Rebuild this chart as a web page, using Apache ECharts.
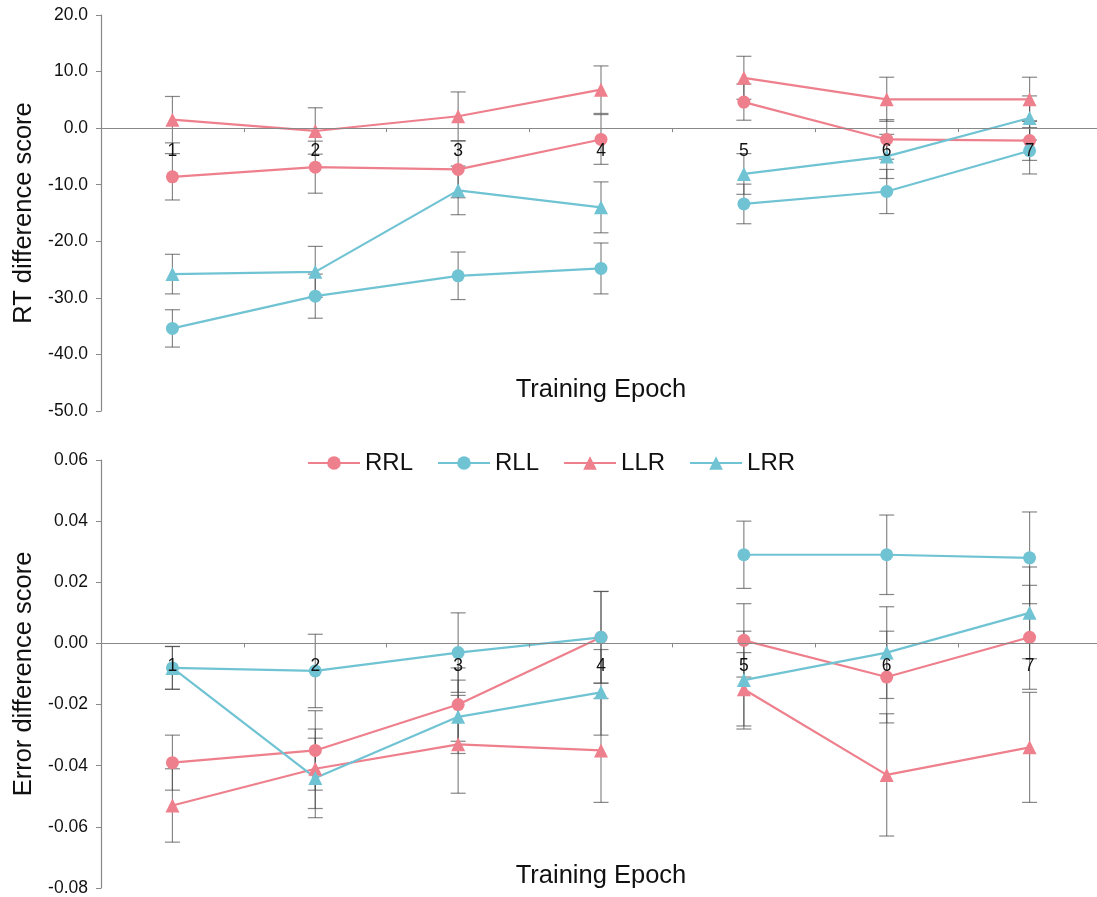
<!DOCTYPE html>
<html>
<head>
<meta charset="utf-8">
<script src="https://cdn.jsdelivr.net/npm/echarts@6/dist/echarts.min.js"></script>
<style>
  html, body { margin: 0; padding: 0; background: #fff; }
  #main { width: 1097px; height: 897px; }
</style>
</head>
<body>
<div id="main"></div>
<script>
// 训练阶段
var epochs = ['1', '2', '3', '4', '5', '6', '7'];

// RT difference score (mean, error)
var rtRRL = [-8.6, -6.9, -7.3, -2.0, 4.6, -2.0, -2.2];
var rtRRLErr = [4.1, 4.6, 5.0, 4.4, 3.2, 3.5, 3.5];
var rtRLL = [-35.4, -29.7, -26.1, -24.8, -13.4, -11.2, -4.0];
var rtRLLErr = [3.3, 3.9, 4.2, 4.5, 3.5, 3.9, 4.1];
var rtLLR = [1.5, -0.5, 2.1, 6.8, 8.9, 5.1, 5.1];
var rtLLRErr = [4.1, 4.1, 4.3, 4.2, 3.8, 3.9, 3.9];
var rtLRR = [-25.8, -25.4, -11.0, -14.0, -8.1, -5.0, 1.8];
var rtLRRErr = [3.5, 4.5, 4.3, 4.5, 3.6, 3.9, 3.9];

// Error difference score (mean, error)
var erRRL = [-0.039, -0.035, -0.020, 0.002, 0.001, -0.011, 0.002];
var erRRLErr = [0.009, 0.013, 0.012, 0.015, 0.012, 0.015, 0.017];
var erRLL = [-0.008, -0.009, -0.003, 0.002, 0.029, 0.029, 0.028];
var erRLLErr = [0.007, 0.012, 0.013, 0.015, 0.011, 0.013, 0.015];
var erLLR = [-0.053, -0.041, -0.033, -0.035, -0.015, -0.043, -0.034];
var erLLRErr = [0.012, 0.013, 0.016, 0.017, 0.012, 0.020, 0.018];
var erLRR = [-0.008, -0.044, -0.024, -0.016, -0.012, -0.003, 0.010];
var erLRRErr = [0.007, 0.013, 0.012, 0.014, 0.016, 0.015, 0.015];

// y轴范围
var rtMin = -50, rtMax = 20, rtStep = 10;
var erMin = -0.08, erMax = 0.06, erStep = 0.02;

var pink = '#ee7f8c';
var blue = '#6fc3d3';
var fontName = '"Liberation Sans", Arial, sans-serif';

var grid1 = { left: 101, top: 15, width: 1000, height: 396 };
var grid2 = { left: 101, top: 460, width: 1000, height: 428 };

// 1-4 和 5-7 分两段画
function part(arr, from, to) {
    return arr.map(function (v, i) { return (i >= from && i <= to) ? v : '-'; });
}

function lineSeries(name, color, symbol, vals, axis) {
    var list = [];
    [[0, 3], [4, 6]].forEach(function (r) {
        list.push({
            name: name,
            type: 'line',
            xAxisIndex: axis,
            yAxisIndex: axis,
            data: part(vals, r[0], r[1]),
            symbol: symbol,
            symbolSize: symbol === 'circle' ? 13 : 14,
            color: color,
            lineStyle: { width: 2.2, color: color },
            itemStyle: { color: color },
            connectNulls: false,
            z: 3
        });
    });
    return list;
}

function errSeries(vals, errs, axis) {
    return {
        type: 'custom',
        xAxisIndex: axis,
        yAxisIndex: axis,
        silent: true,
        z: 2,
        encode: { x: 0, y: 1 },
        renderItem: function (params, api) {
            var x = api.value(0), v = api.value(1), e = api.value(2);
            var hi = api.coord([x, v + e]);
            var lo = api.coord([x, v - e]);
            var w = 7.5;
            var st = { stroke: 'rgba(70,70,70,0.65)', lineWidth: 1.2 };
            return {
                type: 'group',
                children: [
                    { type: 'line', shape: { x1: hi[0], y1: hi[1], x2: lo[0], y2: lo[1] }, style: st },
                    { type: 'line', shape: { x1: hi[0] - w, y1: hi[1], x2: hi[0] + w, y2: hi[1] }, style: st },
                    { type: 'line', shape: { x1: lo[0] - w, y1: lo[1], x2: lo[0] + w, y2: lo[1] }, style: st }
                ]
            };
        },
        data: vals.map(function (v, i) { return [i, v, errs[i]]; })
    };
}

// x轴画在 0 的位置上（用 offset 往上挪）
function xAxisCfg(idx, gap, offset) {
    return {
        type: 'category',
        gridIndex: idx,
        data: epochs,
        z: 10,
        offset: offset,
        name: 'Training Epoch',
        nameLocation: 'middle',
        nameGap: gap,
        nameTextStyle: { fontSize: 25.5, color: '#111', fontFamily: fontName },
        axisLine: { onZero: false, lineStyle: { color: '#888', width: 1.2 } },
        axisTick: { show: true, length: 4, lineStyle: { color: '#888' } },
        axisLabel: { fontSize: 17.5, color: '#111', margin: 14, fontFamily: fontName },
        splitLine: { show: false }
    };
}

function yAxisCfg(idx, name, min, max, interval, digits, gap) {
    return {
        type: 'value',
        gridIndex: idx,
        min: min,
        max: max,
        interval: interval,
        name: name,
        nameLocation: 'middle',
        nameGap: gap,
        nameTextStyle: { fontSize: 25.5, color: '#111', fontFamily: fontName },
        axisLine: { show: true, lineStyle: { color: '#888', width: 1.2 } },
        axisTick: { show: true, length: 5, lineStyle: { color: '#888' } },
        axisLabel: {
            fontSize: 17.5, color: '#111', margin: 13, fontFamily: fontName,
            formatter: function (v) { return v.toFixed(digits); }
        },
        splitLine: { show: false }
    };
}

var chart = echarts.init(document.getElementById('main'));

var series = [];
series.push(errSeries(rtRRL, rtRRLErr, 0), errSeries(rtRLL, rtRLLErr, 0),
            errSeries(rtLLR, rtLLRErr, 0), errSeries(rtLRR, rtLRRErr, 0));
series.push(errSeries(erRRL, erRRLErr, 1), errSeries(erRLL, erRLLErr, 1),
            errSeries(erLLR, erLLRErr, 1), errSeries(erLRR, erLRRErr, 1));
series = series.concat(
    lineSeries('RRL', pink, 'circle', rtRRL, 0),
    lineSeries('RLL', blue, 'circle', rtRLL, 0),
    lineSeries('LLR', pink, 'triangle', rtLLR, 0),
    lineSeries('LRR', blue, 'triangle', rtLRR, 0),
    lineSeries('RRL', pink, 'circle', erRRL, 1),
    lineSeries('RLL', blue, 'circle', erRLL, 1),
    lineSeries('LLR', pink, 'triangle', erLLR, 1),
    lineSeries('LRR', blue, 'triangle', erLRR, 1)
);

// 0 线离网格底边的距离
var off1 = -grid1.height * (0 - rtMin) / (rtMax - rtMin);
var off2 = -grid2.height * (0 - erMin) / (erMax - erMin);

var option = {
    backgroundColor: '#fff',
    animation: false,
    textStyle: { fontFamily: fontName },
    legend: {
        data: ['RRL', 'RLL', 'LLR', 'LRR'],
        left: 302,
        top: 446,
        itemWidth: 52,
        itemHeight: 17,
        itemGap: 24,
        textStyle: { fontSize: 24, color: '#111', fontFamily: fontName }
    },
    grid: [
        Object.assign({ outerBoundsMode: 'none' }, grid1),
        Object.assign({ outerBoundsMode: 'none' }, grid2)
    ],
    xAxis: [xAxisCfg(0, 249, off1), xAxisCfg(1, 220, off2)],
    yAxis: [
        yAxisCfg(0, 'RT difference score', rtMin, rtMax, rtStep, 1, 63),
        yAxisCfg(1, 'Error difference score', erMin, erMax, erStep, 2, 63)
    ],
    series: series
};

chart.setOption(option);
</script>
</body>
</html>
